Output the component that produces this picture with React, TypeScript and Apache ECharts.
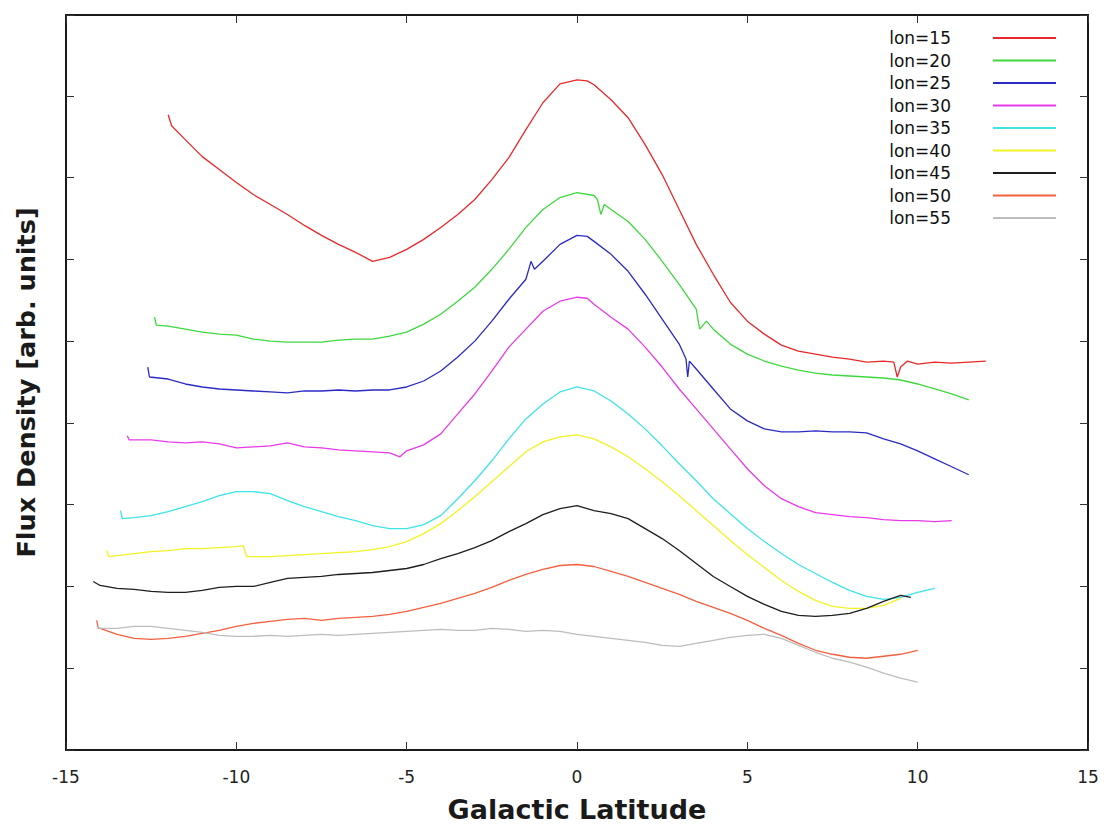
import React, { useEffect, useRef } from "react";
import * as echarts from "echarts";

const lon15Lat = [-12.0,-11.9,-11.5,-11.0,-10.5,-10.0,-9.5,-9.0,-8.5,-8.0,-7.5,-7.0,-6.5,-6.0,-5.5,-5.0,-4.5,-4.0,-3.5,-3.0,-2.5,-2.0,-1.5,-1.0,-0.5,0,0.3,0.5,1.0,1.5,2.0,2.5,3.0,3.5,4.0,4.5,5.0,5.5,6.0,6.5,7.0,7.5,8.0,8.5,9.0,9.3,9.4,9.5,9.7,10.0,10.5,11.0,11.5,12.0];
const lon15Val = [637,626,612,595,582,569,557,547,537,526,516,507,499,490,494,502,512,524,537,552,572,594,622,649,668,672,671,667,652,634,607,577,542,507,477,449,430,417,406,400,397,394,392,389,390,389,374,384,390,387,389,388,389,390];

const lon20Lat = [-12.4,-12.35,-12.0,-11.5,-11.0,-10.5,-10.0,-9.5,-9.0,-8.5,-8.0,-7.5,-7.0,-6.5,-6.0,-5.5,-5.0,-4.5,-4.0,-3.5,-3.0,-2.5,-2.0,-1.5,-1.0,-0.5,0,0.5,0.6,0.7,0.8,1.0,1.5,2.0,2.5,3.0,3.5,3.6,3.8,4.0,4.5,5.0,5.5,6.0,6.5,7.0,7.5,8.0,8.5,9.0,9.5,10.0,10.5,11.0,11.5];
const lon20Val = [434,426,425,422,419,417,416,412,410,409,409,409,411,412,412,415,419,427,437,450,464,482,502,524,542,554,559,556,552,537,547,542,530,512,490,467,442,422,430,422,407,397,390,385,381,378,376,375,374,373,371,367,362,357,351];

const lon25Lat = [-12.6,-12.55,-12.0,-11.5,-11.0,-10.5,-10.0,-9.5,-9.0,-8.5,-8.0,-7.5,-7.0,-6.5,-6.0,-5.5,-5.0,-4.5,-4.0,-3.5,-3.0,-2.5,-2.0,-1.5,-1.35,-1.25,-1.0,-0.5,0,0.3,0.5,1.0,1.5,2.0,2.5,3.0,3.2,3.25,3.3,3.5,4.0,4.5,5.0,5.5,6.0,6.5,7.0,7.5,8.0,8.5,9.0,9.5,10.0,10.5,11.0,11.5];
const lon25Val = [384,374,372,367,364,362,361,360,359,358,360,360,361,360,361,361,364,370,380,394,410,430,452,472,490,482,490,507,516,515,510,497,480,457,432,407,392,374,390,382,362,342,330,322,319,319,320,319,319,318,312,307,300,292,284,276];

const lon30Lat = [-13.2,-13.15,-13.0,-12.5,-12.0,-11.5,-11.0,-10.5,-10.0,-9.5,-9.0,-8.5,-8.0,-7.5,-7.0,-6.5,-6.0,-5.5,-5.2,-5.0,-4.5,-4.0,-3.5,-3.0,-2.5,-2.0,-1.5,-1.0,-0.5,0,0.3,0.5,1.0,1.5,2.0,2.5,3.0,3.5,4.0,4.5,5.0,5.5,6.0,6.5,7.0,7.5,8.0,8.5,9.0,9.5,10.0,10.5,11.0];
const lon30Val = [315,311,311,311,309,308,309,307,303,304,305,308,304,303,301,300,299,298,294,300,306,317,337,357,380,404,422,440,450,454,453,447,434,422,404,384,362,342,322,302,282,265,252,244,238,236,234,233,231,230,230,229,230];

const lon35Lat = [-13.4,-13.35,-13.0,-12.5,-12.0,-11.5,-11.0,-10.5,-10.0,-9.5,-9.0,-8.5,-8.0,-7.5,-7.0,-6.5,-6.0,-5.5,-5.0,-4.5,-4.0,-3.5,-3.0,-2.5,-2.0,-1.5,-1.0,-0.5,0,0.5,1.0,1.5,2.0,2.5,3.0,3.5,4.0,4.5,5.0,5.5,6.0,6.5,7.0,7.5,8.0,8.5,9.0,9.5,10.0,10.5];
const lon35Val = [240,232,233,235,239,244,249,255,259,259,257,250,244,239,234,230,225,222,222,226,235,252,270,290,312,332,347,359,364,360,350,337,322,305,287,270,252,237,222,209,197,186,177,168,160,154,151,153,158,162];

const lon40Lat = [-13.8,-13.75,-13.5,-13.0,-12.5,-12.0,-11.5,-11.0,-10.5,-10.0,-9.8,-9.7,-9.0,-8.5,-8.0,-7.5,-7.0,-6.5,-6.0,-5.5,-5.0,-4.5,-4.0,-3.5,-3.0,-2.5,-2.0,-1.5,-1.0,-0.5,0,0.5,1.0,1.5,2.0,2.5,3.0,3.5,4.0,4.5,5.0,5.5,6.0,6.5,7.0,7.5,8.0,8.5,9.0,9.5];
const lon40Val = [200,194,195,197,199,200,202,202,203,204,205,194,194,195,196,197,198,199,201,204,209,217,227,240,254,269,284,299,309,314,316,312,304,294,282,269,255,240,225,210,196,183,170,159,150,144,142,142,145,152];

const lon45Lat = [-14.2,-14.0,-13.5,-13.0,-12.5,-12.0,-11.5,-11.0,-10.5,-10.0,-9.5,-9.0,-8.5,-8.0,-7.5,-7.0,-6.5,-6.0,-5.5,-5.0,-4.5,-4.0,-3.5,-3.0,-2.5,-2.0,-1.5,-1.0,-0.5,0,0.5,1.0,1.5,2.0,2.5,3.0,3.5,4.0,4.5,5.0,5.5,6.0,6.5,7.0,7.5,8.0,8.5,9.0,9.5,9.8];
const lon45Val = [169,165,162,161,159,158,158,160,163,164,164,168,172,173,174,176,177,178,180,182,186,192,197,203,210,219,227,236,242,245,240,237,232,222,212,200,187,174,164,154,146,139,135,134,135,137,142,149,155,153];

const lon50Lat = [-14.1,-14.05,-14.0,-13.5,-13.0,-12.5,-12.0,-11.5,-11.0,-10.5,-10.0,-9.5,-9.0,-8.5,-8.0,-7.5,-7.0,-6.5,-6.0,-5.5,-5.0,-4.5,-4.0,-3.5,-3.0,-2.5,-2.0,-1.5,-1.0,-0.5,0,0.5,1.0,1.5,2.0,2.5,3.0,3.5,4.0,4.5,5.0,5.5,6.0,6.5,7.0,7.5,8.0,8.5,9.0,9.5,10.0];
const lon50Val = [130,122,122,116,112,111,112,114,117,120,124,127,129,131,132,130,132,133,134,136,139,143,147,152,157,163,170,176,181,185,186,184,179,174,168,162,156,149,143,137,130,122,115,107,100,96,93,92,94,96,100];

const lon55Lat = [-14.1,-14.0,-13.5,-13.0,-12.5,-12.0,-11.5,-11.0,-10.5,-10.0,-9.5,-9.0,-8.5,-8.0,-7.5,-7.0,-6.5,-6.0,-5.5,-5.0,-4.5,-4.0,-3.5,-3.0,-2.5,-2.0,-1.5,-1.0,-0.5,0,0.5,1.0,1.5,2.0,2.5,3.0,3.5,4.0,4.5,5.0,5.5,6.0,6.5,7.0,7.5,8.0,8.5,9.0,9.5,10.0];
const lon55Val = [124,122,122,124,124,122,120,118,115,114,114,115,114,115,116,115,116,117,118,119,120,121,120,120,122,121,119,120,119,116,114,112,110,108,105,104,107,110,113,115,116,112,105,98,92,88,83,77,72,68];

const seriesNames = ["lon=15","lon=20","lon=25","lon=30","lon=35","lon=40","lon=45","lon=50","lon=55"];
const seriesLats = [lon15Lat,lon20Lat,lon25Lat,lon30Lat,lon35Lat,lon40Lat,lon45Lat,lon50Lat,lon55Lat];
const seriesVals = [lon15Val,lon20Val,lon25Val,lon30Val,lon35Val,lon40Val,lon45Val,lon50Val,lon55Val];
const seriesColors = ["#e8292b","#3ed83e","#2a2ac4","#e83ae8","#3de4e8","#f2f226","#1e1e1e","#f26040","#bdbdbd"];

const xTicks = [-15, -10, -5, 0, 5, 10, 15];

export default function App() {
  const ref = useRef<HTMLDivElement>(null);
  useEffect(() => {
    if (!ref.current) return;
    const chart = echarts.init(ref.current, null, { renderer: "svg" });
    const font = "DejaVu Sans";
    const series = seriesNames.map((name, i) => ({
      name,
      type: "line",
      xAxisIndex: 0,
      yAxisIndex: 0,
      symbol: "none",
      data: seriesLats[i].map((lat, j) => [lat, seriesVals[i][j]]),
      lineStyle: { color: seriesColors[i], width: 1.3 },
      itemStyle: { color: seriesColors[i] },
    }));
    chart.setOption({
      animation: false,
      backgroundColor: "#ffffff",
      grid: {
        left: 66, right: 19, top: 15, bottom: 76,
        show: true, borderColor: "#1a1a1a", borderWidth: 2, backgroundColor: "transparent",
      },
      legend: {
        orient: "vertical",
        right: 46,
        top: 24,
        align: "right",
        icon: "rect",
        itemWidth: 63,
        itemHeight: 2,
        itemGap: 4.5,
        data: seriesNames,
        textStyle: { fontFamily: font, fontSize: 17, color: "#111", lineHeight: 18, padding: [0, 37, 0, 0] },
      },
      xAxis: [
        {
          type: "value", min: -15, max: 15, interval: 5, position: "bottom",
          name: "Galactic Latitude", nameLocation: "middle", nameGap: 46,
          nameTextStyle: { fontFamily: font, fontSize: 27, fontWeight: "bold", color: "#1a1a1a" },
          axisLine: { show: true, onZero: false, lineStyle: { color: "#1a1a1a", width: 2 } },
          axisTick: { show: true, inside: true, length: 8, lineStyle: { color: "#333", width: 1 } },
          axisLabel: { fontFamily: font, fontSize: 17, color: "#222", margin: 18,
            formatter: (v: number) => (xTicks.includes(v) ? String(v) : "") },
          splitLine: { show: false },
        },
        {
          type: "value", min: -15, max: 15, interval: 5, position: "top",
          axisLine: { show: true, onZero: false, lineStyle: { color: "#1a1a1a", width: 2 } },
          axisTick: { show: true, inside: true, length: 8, lineStyle: { color: "#333", width: 1 } },
          axisLabel: { show: false },
          splitLine: { show: false },
        },
      ],
      yAxis: [
        {
          type: "value", min: 0, max: 737, interval: 82, position: "left",
          name: "Flux Density [arb. units]", nameLocation: "middle", nameGap: 27,
          nameTextStyle: { fontFamily: font, fontSize: 25.5, fontWeight: "bold", color: "#1a1a1a" },
          axisLine: { show: true, onZero: false, lineStyle: { color: "#1a1a1a", width: 2 } },
          axisTick: { show: true, inside: true, length: 8, lineStyle: { color: "#333", width: 1 } },
          axisLabel: { show: false },
          splitLine: { show: false },
        },
        {
          type: "value", min: 0, max: 737, interval: 82, position: "right",
          axisLine: { show: true, onZero: false, lineStyle: { color: "#1a1a1a", width: 2 } },
          axisTick: { show: true, inside: true, length: 8, lineStyle: { color: "#333", width: 1 } },
          axisLabel: { show: false },
          splitLine: { show: false },
        },
      ],
      series,
    });
    return () => chart.dispose();
  }, []);
  return <div ref={ref} style={{ position: "absolute", left: 0, top: 0, width: 1107, height: 828 }} />;
}
